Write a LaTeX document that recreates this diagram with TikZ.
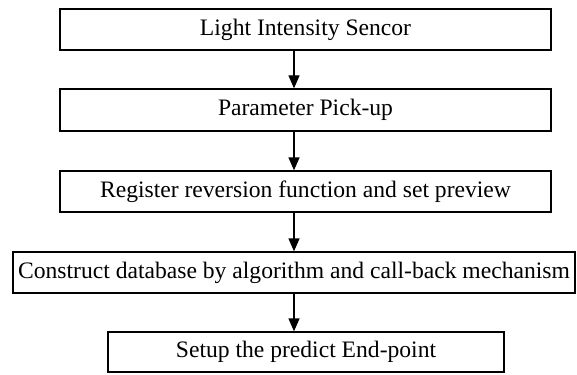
\documentclass[tikz,border=0pt]{standalone}
\usepackage{fontspec}
\setmainfont{Liberation Serif}
\usetikzlibrary{arrows.meta}
\begin{document}
\begin{tikzpicture}[x=1pt,y=-1pt,
  stepbox/.style={draw,line width=1.3pt,rectangle,inner sep=0pt,minimum height=41pt,font=\fontsize{23.6}{28}\selectfont},
  arr/.style={line width=1.3pt,-{Triangle[width=11pt,length=13pt]}}]
\useasboundingbox (0,0) rectangle (577,374);
\node[stepbox,minimum width=491pt] (b1) at (305.5,29.5) {Light Intensity Sencor};
\node[stepbox,minimum width=491pt,minimum height=42pt] (b2) at (305.5,110) {Parameter Pick-up};
\node[stepbox,minimum width=491pt] (b3) at (305.5,191.5) {Register reversion function and set preview};
\node[stepbox,minimum width=562pt] (b4) at (294,272.5) {Construct database by algorithm and call-back mechanism};
\node[stepbox,minimum width=396pt,minimum height=40pt] (b5) at (306,352) {Setup the predict End-point};
\draw[arr] (b1.south -| b4.north) -- (b2.north -| b4.north);
\draw[arr] (b2.south -| b4.north) -- (b3.north -| b4.north);
\draw[arr] (b3.south -| b4.north) -- (b4.north);
\draw[arr] (b4.south) -- (b5.north -| b4.south);
\end{tikzpicture}
\end{document}
